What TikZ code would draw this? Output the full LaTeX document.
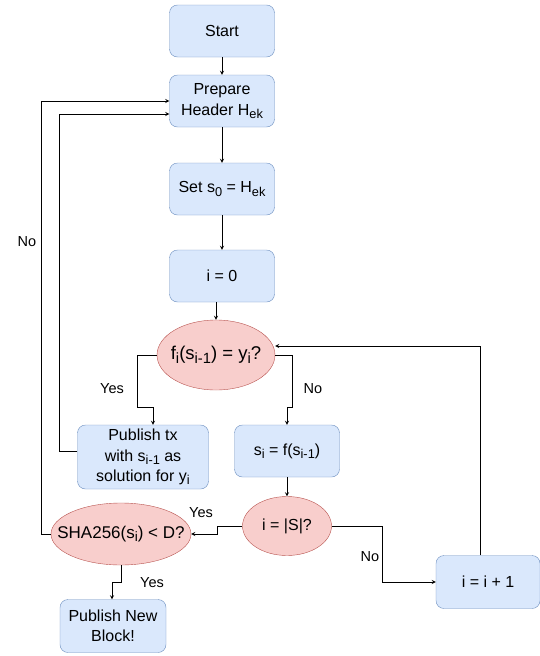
\documentclass[tikz,border=0pt]{standalone}
\usepackage{fontspec}
\setmainfont{Liberation Sans}
\usetikzlibrary{shapes.geometric}
\definecolor{boxfill}{HTML}{DAE8FC}
\definecolor{boxline}{HTML}{6C8EBF}
\definecolor{askfill}{HTML}{F8CECC}
\definecolor{askline}{HTML}{B85450}
\newcommand{\lo}[1]{\raisebox{-0.4ex}{\scalebox{0.8}{#1}}}
\tikzstyle{stepbox}=[draw=boxline, fill=boxfill, rounded corners=8pt, minimum width=105pt, minimum height=52pt, inner sep=1pt, align=center, font=\fontsize{16}{20.5}\selectfont]
\tikzstyle{ask}=[ellipse, draw=askline, fill=askfill, inner xsep=-25pt, inner ysep=-4pt, align=center, font=\fontsize{16}{20}\selectfont]
\tikzstyle{flow}=[->, >=stealth, line width=0.8pt]
\tikzstyle{tag}=[font=\fontsize{14.5}{16}\selectfont]

\begin{document}
\begin{tikzpicture}[x=1pt, y=-1pt]
\useasboundingbox (0,0) rectangle (540,656);
\node[stepbox] (start) at (222,31) {Start};
\node[stepbox] (hdr) at (222,101) {Prepare\\Header H\lo{ek}};
\node[stepbox] (set) at (222,189) {Set s\lo{0} = H\lo{ek}};
\node[stepbox] (zero) at (222,276) {i = 0};
\node[ask, minimum width=118pt, minimum height=70pt, font=\fontsize{18.5}{20}\selectfont] (check) at (216,355) {f\lo{i}(s\lo{i-1}) = y\lo{i}?};
\node[stepbox, minimum width=131pt, minimum height=64pt] (pubtx) at (143,457) {Publish tx\\with s\lo{i-1} as\\solution for y\lo{i}};
\node[stepbox] (next) at (287,451) {s\lo{i} = f(s\lo{i-1})};
\node[ask, minimum width=89pt, minimum height=59pt] (last) at (287,526) {i = |S|?};
\node[ask, minimum width=140pt, minimum height=62pt, font=\fontsize{17}{20}\selectfont] (hash) at (121,534) {SHA256(s\lo{i}) < D?};
\node[stepbox, minimum width=106pt, minimum height=53pt] (block) at (113,626) {Publish New\\Block!};
\node[stepbox, minimum width=104pt, minimum height=53pt] (incr) at (488,582) {i = i + 1};

\draw[flow] (start) -- (hdr);
\draw[flow] (hdr) -- (set);
\draw[flow] (set) -- (zero);
\draw[flow] (check.north |- zero.south) -- (check.north);
% branch on the guess
\draw[flow] (check.west) -| ++(-19,52) -| ([xshift=10pt]pubtx.north);
\node[tag] (yes1) at (112,389) {Yes};
\draw[flow] (check.east) -| ++(17,52) -| (next.north);
\node[tag] (no1) at (313,389) {No};
\draw[flow] (next) -- (last);
\draw[flow] (last.west) -- ++(-25,0) |- (hash.east);
\node[tag] (yes2) at (201,513) {Yes};
\draw[flow] (last.east) -- ++(51,0) |- (incr.west);
\node[tag] (no2) at (370,557) {No};
\draw[flow] ([xshift=-8pt]incr.north) |- ([yshift=9pt]check.east);
\draw[flow] (hash.south) -- ++(0,17) -| ([xshift=-1pt]block.north);
\node[tag] (yes3) at (152,583) {Yes};
% loops back to the header
\draw[flow] (hash.west) -- ++(-9,0) |- (hdr.west);
\node[tag] (no3) at (27,242) {No};
\draw[flow] ([yshift=6pt]pubtx.west) -- ++(-18,0) |- ([yshift=-13pt]hdr.west);
\end{tikzpicture}
\end{document}
